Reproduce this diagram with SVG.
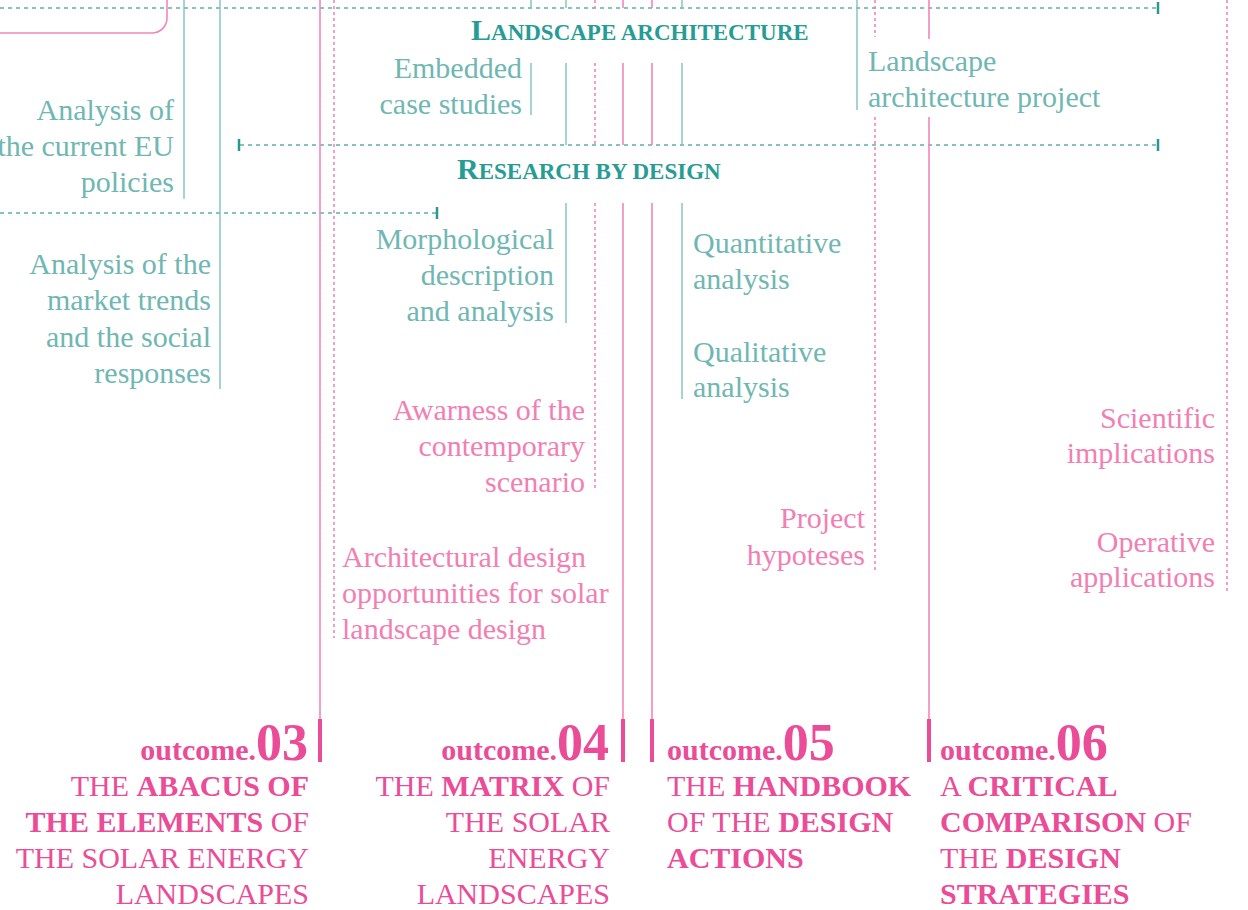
<svg xmlns="http://www.w3.org/2000/svg" width="1248" height="910" viewBox="0 0 1248 910">
<style>
text{font-family:"Liberation Serif","Times New Roman",serif}
.t{fill:#6fb7b3;font-size:30px}
.p{fill:#f27fb3;font-size:30px}
.r{text-anchor:end}
.ttl{fill:#279c95;font-weight:bold}
.big{font-size:30px}
.sm{font-size:23px}
.o{fill:#ea4c98;font-size:30px}
.b{font-weight:bold}
.num{font-size:52px;font-weight:bold}
.tl{stroke:#7fc1be;stroke-width:1.4;fill:none}
.pl{stroke:#f386b8;stroke-width:1.6;fill:none}
.pd{stroke:#f386b8;stroke-width:1.6;stroke-dasharray:3 3;fill:none}
.td{stroke:#5db0ac;stroke-width:1.3;stroke-dasharray:4 4;fill:none}
.tick{stroke:#2a9890;stroke-width:2.5}
.bar{stroke:#ea4c98;stroke-width:4}
</style>
<g id="connectors">
<path class="pl" d="M0,33 H152 A15,15 0 0 0 167,18 V0"/>
<line class="td" x1="0" y1="8" x2="1158" y2="8"/>
<line class="td" x1="240" y1="145" x2="1158" y2="145"/>
<line class="td" x1="0" y1="213" x2="437" y2="213"/>
<line class="tick" x1="1158" y1="2" x2="1158" y2="14"/>
<line class="tick" x1="1158" y1="139" x2="1158" y2="151"/>
<line class="tick" x1="239" y1="139" x2="239" y2="151"/>
<line class="tick" x1="437" y1="207" x2="437" y2="219"/>
<line class="tl" x1="184" y1="0" x2="184" y2="199"/>
<line class="tl" x1="220" y1="0" x2="220" y2="389"/>
<line class="pl" x1="320" y1="0" x2="320" y2="720"/>
<line class="pd" x1="334" y1="0" x2="334" y2="638"/>
<path class="tl" d="M531,0 V8 M531,63 V115"/>
<path class="tl" d="M566,0 V8 M566,63 V145 M566,203 V323"/>
<path class="pd" d="M595,0 V8 M595,63 V145 M595,203 V490"/>
<path class="pl" d="M623,0 V8 M623,63 V145 M623,203 V720"/>
<path class="pl" d="M652,0 V8 M652,63 V145 M652,203 V720"/>
<path class="tl" d="M682,0 V8 M682,63 V145 M682,203 V399"/>
<line class="tl" x1="857" y1="0" x2="857" y2="110"/>
<path class="pd" d="M875,0 V37 M875,117 V572"/>
<path class="pl" d="M929,0 V39 M929,117 V720"/>
<line class="pd" x1="1227" y1="0" x2="1227" y2="591"/>
<line class="bar" x1="320" y1="719" x2="320" y2="762"/>
<line class="bar" x1="623" y1="719" x2="623" y2="762"/>
<line class="bar" x1="652" y1="719" x2="652" y2="762"/>
<line class="bar" x1="929" y1="719" x2="929" y2="762"/>
</g>
<g id="title-landscape"><text class="ttl" x="471" y="40"><tspan class="big">L</tspan><tspan class="sm">ANDSCAPE ARCHITECTURE</tspan></text></g>
<g id="title-research"><text class="ttl" x="457" y="179"><tspan class="big">R</tspan><tspan class="sm">ESEARCH BY DESIGN</tspan></text></g>
<g id="eu-policies"><text class="t r"><tspan x="174" y="120">Analysis of</tspan><tspan x="174" y="156">the current EU</tspan><tspan x="174" y="192">policies</tspan></text></g>
<g id="market-trends"><text class="t r"><tspan x="211" y="274">Analysis of the</tspan><tspan x="211" y="310">market trends</tspan><tspan x="211" y="347">and the social</tspan><tspan x="211" y="383">responses</tspan></text></g>
<g id="embedded"><text class="t r"><tspan x="522" y="78">Embedded</tspan><tspan x="522" y="114">case studies</tspan></text></g>
<g id="la-project"><text class="t"><tspan x="868" y="71">Landscape</tspan><tspan x="868" y="107">architecture project</tspan></text></g>
<g id="morphological"><text class="t r"><tspan x="554" y="249">Morphological</tspan><tspan x="554" y="285">description</tspan><tspan x="554" y="321">and analysis</tspan></text></g>
<g id="quantitative"><text class="t"><tspan x="693" y="253">Quantitative</tspan><tspan x="693" y="289">analysis</tspan></text></g>
<g id="qualitative"><text class="t"><tspan x="693" y="362">Qualitative</tspan><tspan x="693" y="397">analysis</tspan></text></g>
<g id="awarness"><text class="p r"><tspan x="585" y="420">Awarness of the</tspan><tspan x="585" y="456">contemporary</tspan><tspan x="585" y="492">scenario</tspan></text></g>
<g id="architectural"><text class="p"><tspan x="342" y="567">Architectural design</tspan><tspan x="342" y="603">opportunities for solar</tspan><tspan x="342" y="639">landscape design</tspan></text></g>
<g id="hypoteses"><text class="p r"><tspan x="865" y="528">Project</tspan><tspan x="865" y="565">hypoteses</tspan></text></g>
<g id="scientific"><text class="p r"><tspan x="1215" y="428">Scientific</tspan><tspan x="1215" y="463">implications</tspan></text></g>
<g id="operative"><text class="p r"><tspan x="1215" y="552">Operative</tspan><tspan x="1215" y="587">applications</tspan></text></g>
<g id="outcome03">
<text class="o r" x="308" y="760"><tspan class="b">outcome.</tspan><tspan class="num">03</tspan></text>
<text class="o r" x="309" y="796">THE <tspan class="b">ABACUS OF</tspan></text>
<text class="o r" x="309" y="832"><tspan class="b">THE ELEMENTS</tspan> OF</text>
<text class="o r" x="309" y="868">THE SOLAR ENERGY</text>
<text class="o r" x="309" y="904">LANDSCAPES</text>
</g>
<g id="outcome04">
<text class="o r" x="609" y="760"><tspan class="b">outcome.</tspan><tspan class="num">04</tspan></text>
<text class="o r" x="610" y="796">THE <tspan class="b">MATRIX</tspan> OF</text>
<text class="o r" x="610" y="832">THE SOLAR</text>
<text class="o r" x="610" y="868">ENERGY</text>
<text class="o r" x="610" y="904">LANDSCAPES</text>
</g>
<g id="outcome05">
<text class="o" x="667" y="760"><tspan class="b">outcome.</tspan><tspan class="num">05</tspan></text>
<text class="o" x="667" y="796">THE <tspan class="b">HANDBOOK</tspan></text>
<text class="o" x="667" y="832">OF THE <tspan class="b">DESIGN</tspan></text>
<text class="o b" x="667" y="868">ACTIONS</text>
</g>
<g id="outcome06">
<text class="o" x="940" y="760"><tspan class="b">outcome.</tspan><tspan class="num">06</tspan></text>
<text class="o" x="940" y="796">A <tspan class="b">CRITICAL</tspan></text>
<text class="o" x="940" y="832"><tspan class="b">COMPARISON</tspan> OF</text>
<text class="o" x="940" y="868">THE <tspan class="b">DESIGN</tspan></text>
<text class="o b" x="940" y="904">STRATEGIES</text>
</g>
</svg>
